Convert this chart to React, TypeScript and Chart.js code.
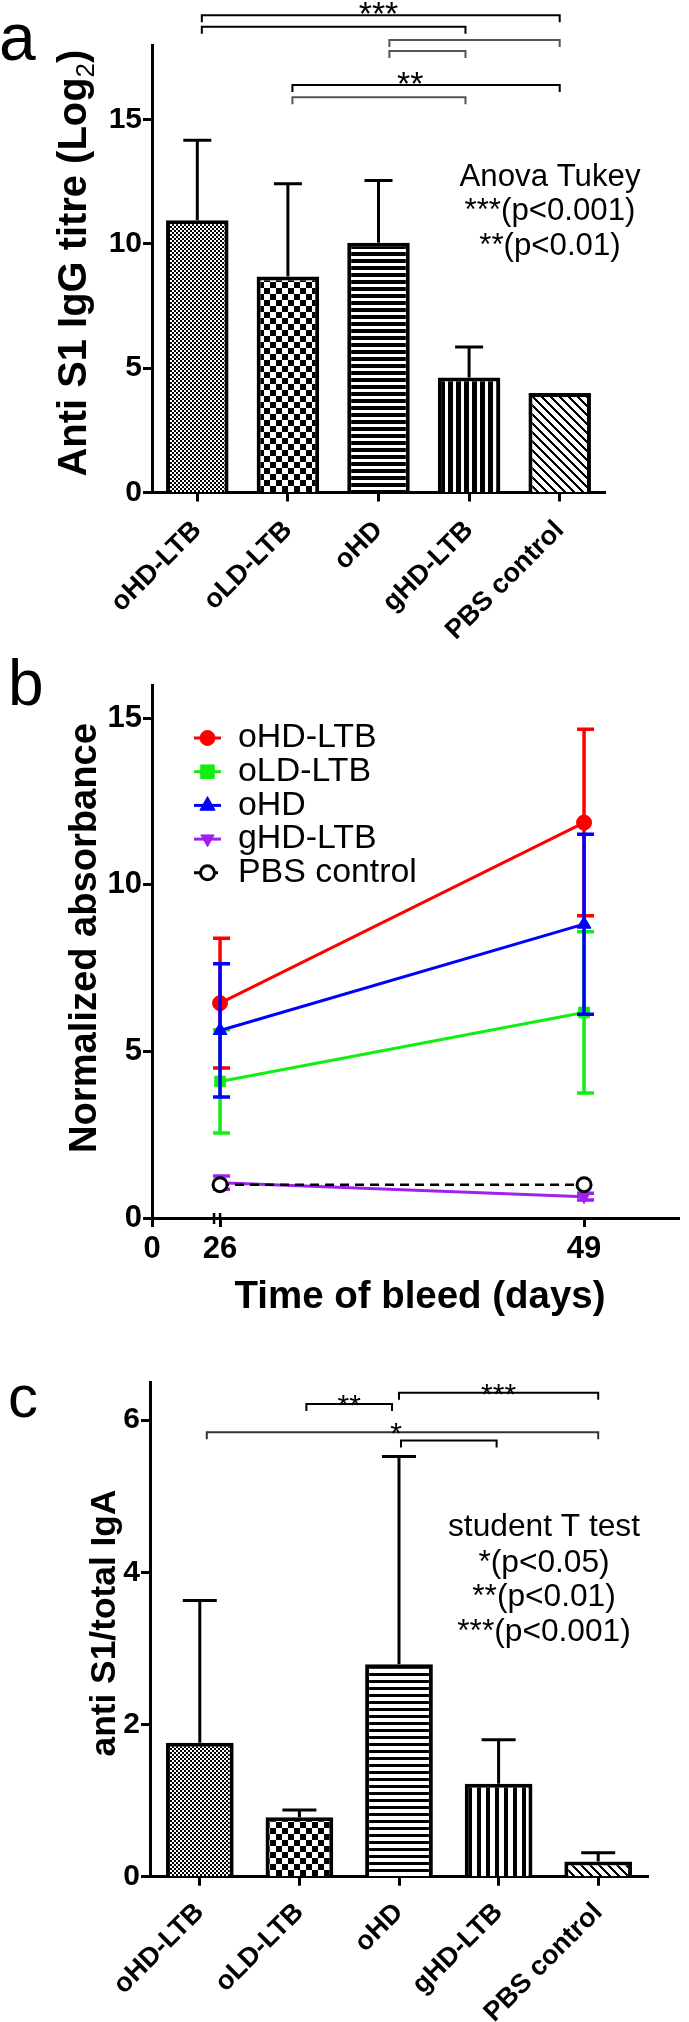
import React, { useEffect, useRef } from 'react';
import { Chart, registerables } from 'chart.js';

Chart.register(...registerables);

const FONT = '"Liberation Sans", Arial, Helvetica, sans-serif';

// ---------------- Panel a : anti S1 IgG titre ----------------
const groups = ['oHD-LTB', 'oLD-LTB', 'oHD', 'gHD-LTB', 'PBS control'];
const iggMean = [10.95, 8.69, 10.05, 4.63, 4.0];
const iggErr = [3.22, 3.73, 2.5, 1.22, 0];
const iggTicks = [0, 5, 10, 15];
const iggMax = 18;
// [fromIndex, toIndex, level, label, labelIndex, colour]
const iggBrackets: any[] = [
  [0.05, 4, 19.2, '***', 2.0, '#000'],
  [0.05, 2.96, 18.73, '', 0, '#000'],
  [2.12, 4, 18.2, '', 0, '#555'],
  [2.12, 2.96, 17.76, '', 0, '#555'],
  [1.05, 4, 16.39, '**', 2.35, '#000'],
  [1.05, 2.96, 15.9, '', 0, '#555'],
];
const iggNotes = ['Anova Tukey', '***(p<0.001)', '**(p<0.01)'];

// ---------------- Panel b : normalized absorbance ----------------
const bleedDays = [26, 49];
const bleedTickLabels = ['0', '26', '49'];
const absTicks = [0, 5, 10, 15];
const seriesNames = ['oHD-LTB', 'oLD-LTB', 'oHD', 'gHD-LTB', 'PBS control'];
const absOHDLTB = [6.45, 11.87];
const errOHDLTB = [1.95, 2.8];
const absOLDLTB = [4.1, 6.17];
const errOLDLTB = [1.55, 2.42];
const absOHD = [5.63, 8.82];
const errOHD = [2.0, 2.7];
const absGHDLTB = [1.06, 0.64];
const errGHDLTB = [0.2, 0.1];
const absPBS = [1.0, 1.0];
const errPBS = [0, 0];

// ---------------- Panel c : anti S1 / total IgA ----------------
const igaMean = [1.76, 0.78, 2.79, 1.22, 0.2];
const igaErr = [1.87, 0.095, 2.73, 0.58, 0.115];
const igaTicks = [0, 2, 4, 6];
const igaMax = 6.5;
const igaBrackets: any[] = [
  [1.07, 1.93, 6.21, '**', 1.5, '#000'],
  [2.0, 4.0, 6.36, '***', 3.0, '#000'],
  [0.07, 4.0, 5.84, '*', 1.97, '#333'],
  [2.02, 2.98, 5.73, '', 0, '#000'],
];
const igaNotes = ['student T test', '*(p<0.05)', '**(p<0.01)', '***(p<0.001)'];

// ---------------- helpers ----------------
function makePattern(kind: string) {
  const c = document.createElement('canvas');
  let w = 4, h = 4;
  let f: (x: number, y: number) => boolean = () => false;
  if (kind === 'fine') { w = 4; h = 4; f = (x, y) => ((x >> 1) + (y >> 1)) % 2 === 0; }
  if (kind === 'checker') { w = 12; h = 12; f = (x, y) => (Math.floor(x / 6) + Math.floor(y / 6)) % 2 === 0; }
  if (kind === 'hlinesA') { w = 1; h = 7; f = (x, y) => y < 4; }
  if (kind === 'hlinesC') { w = 1; h = 7; f = (x, y) => y < 3; }
  if (kind === 'vlinesA') { w = 8; h = 1; f = (x) => x < 5; }
  if (kind === 'vlinesC') { w = 9; h = 1; f = (x) => x < 4; }
  if (kind === 'diag') { w = 9; h = 9; f = (x, y) => (((x - y) % 9) + 9) % 9 < 3; }
  c.width = w; c.height = h;
  const g = c.getContext('2d')!;
  const img = g.createImageData(w, h);
  for (let y = 0; y < h; y++) for (let x = 0; x < w; x++) {
    const v = f(x, y) ? 0 : 255;
    const k = (y * w + x) * 4;
    img.data[k] = v; img.data[k + 1] = v; img.data[k + 2] = v; img.data[k + 3] = 255;
  }
  g.putImageData(img, 0, 0);
  return g.createPattern(c, 'repeat');
}

// font size that makes `s` exactly `width` px wide
function fitSize(ctx: CanvasRenderingContext2D, s: string, width: number, weight: string) {
  ctx.save();
  ctx.font = `${weight} 100px ${FONT}`;
  const w = ctx.measureText(s).width;
  ctx.restore();
  return (100 * width) / w;
}

function text(ctx: CanvasRenderingContext2D, s: string, x: number, y: number, font: string, align: CanvasTextAlign = 'center', base: CanvasTextBaseline = 'middle') {
  ctx.save();
  ctx.font = font; ctx.fillStyle = '#000'; ctx.textAlign = align; ctx.textBaseline = base;
  ctx.fillText(s, x, y);
  ctx.restore();
}

// rotated (bottom-to-top) title fitted to a given length; parts scale together
function rotTitle(ctx: CanvasRenderingContext2D, parts: any[], baseX: number, centerY: number, length: number) {
  ctx.save();
  const measure = (k: number) => parts.map((p) => { ctx.font = `${p.weight} ${p.size * k}px ${FONT}`; return ctx.measureText(p.text).width; });
  const w0 = measure(1).reduce((a, b) => a + b, 0);
  const k = length / w0;
  const widths = measure(k);
  ctx.translate(baseX, centerY);
  ctx.rotate(-Math.PI / 2);
  ctx.fillStyle = '#000'; ctx.textAlign = 'left'; ctx.textBaseline = 'alphabetic';
  let x = -length / 2;
  parts.forEach((p, i) => { ctx.font = `${p.weight} ${p.size * k}px ${FONT}`; ctx.fillText(p.text, x, p.dy * k); x += widths[i]; });
  ctx.restore();
}

function drawMarker(ctx: CanvasRenderingContext2D, style: string, rot: number, x: number, y: number, r: number, fill: string, stroke: string, bw: number) {
  ctx.save();
  ctx.translate(x, y);
  ctx.rotate((rot * Math.PI) / 180);
  ctx.beginPath();
  if (style === 'circle') ctx.arc(0, 0, r, 0, Math.PI * 2);
  else if (style === 'rect') ctx.rect(-r * 0.9, -r * 0.9, r * 1.8, r * 1.8);
  else { ctx.moveTo(0, -r * 1.1); ctx.lineTo(r * 0.95, r * 0.6); ctx.lineTo(-r * 0.95, r * 0.6); ctx.closePath(); }
  ctx.fillStyle = fill; ctx.fill();
  ctx.lineWidth = bw; ctx.strokeStyle = stroke; ctx.stroke();
  ctx.restore();
}

function axisStyle(size: number) {
  return {
    grid: { drawOnChartArea: false, tickLength: 9, tickWidth: 3, tickColor: '#000' },
    border: { display: true, color: '#000', width: 3 },
    ticks: { color: '#000', font: { family: FONT, size, weight: 'bold' as const } },
  };
}

// ---------------- bar chart (panels a & c) ----------------
function barChart(canvas: HTMLCanvasElement, p: any) {
  const W = canvas.width, H = canvas.height;
  const patterns = p.patterns.map(makePattern);
  const ax = axisStyle(30);
  const annot = {
    id: 'annot' + p.letter,
    afterDatasetsDraw(chart: any) {
      const { ctx, scales } = chart;
      const y = scales.y;
      ctx.save();
      ctx.strokeStyle = '#000'; ctx.lineWidth = 3;
      chart.getDatasetMeta(0).data.forEach((bar: any, i: number) => {
        const e = p.err[i];
        if (!e) return;
        const cap = y.getPixelForValue(p.mean[i] + e);
        ctx.beginPath();
        ctx.moveTo(bar.x, bar.y); ctx.lineTo(bar.x, cap);
        ctx.moveTo(bar.x - p.capW / 2, cap); ctx.lineTo(bar.x + p.capW / 2, cap);
        ctx.stroke();
      });
      ctx.restore();
    },
    afterDraw(chart: any) {
      const { ctx, scales } = chart;
      const x = scales.x, y = scales.y;
      p.brackets.forEach((b: any[]) => {
        const [from, to, lvl, label, li, col] = b;
        const x1 = x.getPixelForValue(from), x2 = x.getPixelForValue(to), py = y.getPixelForValue(lvl);
        ctx.save();
        ctx.strokeStyle = col; ctx.lineWidth = 2;
        ctx.beginPath();
        ctx.moveTo(x1, py + 7); ctx.lineTo(x1, py); ctx.lineTo(x2, py); ctx.lineTo(x2, py + 7);
        ctx.stroke();
        ctx.restore();
        if (label) text(ctx, label, x.getPixelForValue(li), py + p.starOffset, `${p.starSize}px ${FONT}`, 'center', 'alphabetic');
      });
      const ns = fitSize(ctx, p.notes[0], p.notesWidth, 'normal');
      p.notes.forEach((s: string, i: number) => text(ctx, s, p.notesX, p.notesY[i], `${ns}px ${FONT}`));
      rotTitle(ctx, p.title, p.titleX, p.titleY, p.titleLen);
      text(ctx, p.letter, p.letterX, p.letterY, `${p.letterSize}px ${FONT}`, 'left', 'alphabetic');
    },
  };
  return new Chart(canvas, {
    type: 'bar',
    data: {
      labels: groups,
      datasets: [{
        data: p.mean, backgroundColor: patterns as any, borderColor: '#000', borderWidth: 4,
        borderSkipped: 'start', barPercentage: p.barPct, categoryPercentage: 1,
      }],
    },
    options: {
      responsive: false, animation: false, devicePixelRatio: 1, events: [],
      layout: { padding: { top: p.area.top, right: W - p.area.right, left: 0, bottom: 0 } },
      plugins: { legend: { display: false }, tooltip: { enabled: false } },
      scales: {
        x: {
          offset: true, z: 1,
          grid: { ...ax.grid, offset: false }, border: ax.border,
          ticks: { ...ax.ticks, font: { family: FONT, size: 27, weight: 'bold' }, minRotation: 45, maxRotation: 45, autoSkip: false, padding: p.labelPad },
          afterFit: (s: any) => { s.height = H - p.area.bottom; },
        },
        y: {
          min: 0, max: p.max,
          afterBuildTicks: (s: any) => { s.ticks = p.ticks.map((v: number) => ({ value: v })); },
          grid: ax.grid, border: ax.border,
          ticks: { ...ax.ticks, padding: 1 },
          afterFit: (s: any) => { s.width = p.area.left; },
        },
      },
    } as any,
    plugins: [annot],
  });
}

// ---------------- line chart (panel b) ----------------
function lineChart(canvas: HTMLCanvasElement) {
  const H = canvas.height;
  const area = { left: 152, top: 35, bottom: 568 };
  const means = [absOHDLTB, absOLDLTB, absOHD, absGHDLTB, absPBS];
  const errs = [errOHDLTB, errOLDLTB, errOHD, errGHDLTB, errPBS];
  const colors = ['#ff0000', '#11ee11', '#0000ff', '#a020f0', '#000000'];
  const styles = ['circle', 'rect', 'triangle', 'triangle', 'circle'];
  const rots = [0, 0, 0, 180, 0];
  const radii = [7.5, 7.5, 8, 7, 7];
  const fills = ['#ff0000', '#11ee11', '#0000ff', '#a020f0', '#ffffff'];
  const dashes = [[], [], [], [], [9, 6]];
  const ax = axisStyle(31);
  const annot = {
    id: 'annotB',
    afterDatasetDraw(chart: any, args: any) {
      const i = args.index;
      const { ctx, scales } = chart;
      ctx.save();
      ctx.strokeStyle = colors[i]; ctx.lineWidth = 3.5;
      args.meta.data.forEach((pt: any, j: number) => {
        const e = errs[i][j];
        if (!e) return;
        const top = scales.y.getPixelForValue(means[i][j] + e);
        const bot = scales.y.getPixelForValue(means[i][j] - e);
        ctx.beginPath();
        ctx.moveTo(pt.x, top); ctx.lineTo(pt.x, bot);
        ctx.moveTo(pt.x - 7, top); ctx.lineTo(pt.x + 10, top);
        ctx.moveTo(pt.x - 7, bot); ctx.lineTo(pt.x + 10, bot);
        ctx.stroke();
      });
      ctx.restore();
    },
    afterDraw(chart: any) {
      const { ctx, scales } = chart;
      const bx = scales.x.getPixelForValue(bleedDays[0]);
      const by = scales.y.getPixelForValue(0);
      ctx.save();
      ctx.strokeStyle = '#000'; ctx.lineWidth = 2.5;
      ctx.beginPath();
      ctx.moveTo(bx - 6, by - 5); ctx.lineTo(bx - 6, by + 6);
      ctx.moveTo(bx, by - 5); ctx.lineTo(bx, by + 1);
      ctx.stroke();
      ctx.restore();
      const ls = fitSize(ctx, seriesNames[4], 179, 'normal');
      chart.data.datasets.forEach((ds: any, i: number) => {
        const cy = 88 + i * 33.7;
        ctx.save();
        ctx.strokeStyle = colors[i]; ctx.lineWidth = 3; ctx.setLineDash(dashes[i]);
        ctx.beginPath(); ctx.moveTo(194, cy); ctx.lineTo(221, cy); ctx.stroke();
        ctx.restore();
        drawMarker(ctx, styles[i], rots[i], 207.5, cy, radii[i], fills[i], colors[i], i === 4 ? 3 : 1);
        text(ctx, ds.label, 238, cy, `${ls}px ${FONT}`, 'left', 'middle');
      });
      rotTitle(ctx, [{ text: 'Normalized absorbance', size: 38, weight: 'bold', dy: 0 }], 96, 288, 430);
      const xs = fitSize(ctx, 'Time of bleed (days)', 371, 'bold');
      text(ctx, 'Time of bleed (days)', 420, 647, `bold ${xs}px ${FONT}`);
      text(ctx, 'b', 8, 55, `64px ${FONT}`, 'left', 'alphabetic');
    },
  };
  return new Chart(canvas, {
    type: 'line',
    data: {
      datasets: seriesNames.map((name, i) => ({
        label: name,
        data: bleedDays.map((d, j) => ({ x: d, y: means[i][j] })),
        borderColor: colors[i], backgroundColor: fills[i],
        borderWidth: i === 4 ? 2.5 : 3, borderDash: dashes[i],
        pointStyle: styles[i], pointRotation: rots[i], pointRadius: radii[i],
        pointBackgroundColor: fills[i], pointBorderColor: colors[i], pointBorderWidth: i === 4 ? 3 : 1,
        order: 5 - i, tension: 0,
      })),
    },
    options: {
      responsive: false, animation: false, devicePixelRatio: 1, events: [],
      layout: { padding: { top: area.top, right: 0, left: 0, bottom: 0 } },
      plugins: { legend: { display: false }, tooltip: { enabled: false } },
      scales: {
        x: {
          type: 'linear', min: 21.7, max: 55,
          afterBuildTicks: (s: any) => { s.ticks = [s.min, ...bleedDays].map((v: number) => ({ value: v })); },
          grid: ax.grid, border: ax.border,
          ticks: { ...ax.ticks, padding: 4, maxRotation: 0, callback: (_v: any, i: number) => bleedTickLabels[i] },
          afterFit: (s: any) => { s.height = H - area.bottom; },
        },
        y: {
          min: 0, max: 16,
          afterBuildTicks: (s: any) => { s.ticks = absTicks.map((v) => ({ value: v })); },
          grid: ax.grid, border: ax.border,
          ticks: { ...ax.ticks, padding: 1 },
          afterFit: (s: any) => { s.width = area.left; },
        },
      },
    } as any,
    plugins: [annot],
  });
}

export default function App() {
  const refA = useRef<HTMLCanvasElement>(null);
  const refB = useRef<HTMLCanvasElement>(null);
  const refC = useRef<HTMLCanvasElement>(null);
  useEffect(() => {
    const a = barChart(refA.current!, {
      mean: iggMean, err: iggErr, ticks: iggTicks, max: iggMax, brackets: iggBrackets,
      patterns: ['fine', 'checker', 'hlinesA', 'vlinesA', 'diag'],
      area: { left: 152, right: 605, top: 45, bottom: 492.5 }, barPct: 0.69, capW: 28, labelPad: 13,
      starSize: 34, starOffset: 10,
      notes: iggNotes, notesX: 550, notesY: [177, 211, 246], notesWidth: 181,
      title: [
        { text: 'Anti S1 IgG titre (Log', size: 40, weight: 'bold', dy: 0 },
        { text: '2', size: 26, weight: 'normal', dy: 8 },
        { text: ')', size: 40, weight: 'bold', dy: 0 },
      ],
      titleX: 86, titleY: 263, titleLen: 427,
      letter: 'a', letterX: -1, letterY: 60, letterSize: 66,
    });
    const b = lineChart(refB.current!);
    const c = barChart(refC.current!, {
      mean: igaMean, err: igaErr, ticks: igaTicks, max: igaMax, brackets: igaBrackets,
      patterns: ['fine', 'checker', 'hlinesC', 'vlinesC', 'diag'],
      area: { left: 150, right: 648, top: 52, bottom: 546.7 }, barPct: 0.68, capW: 34, labelPad: 11,
      starSize: 30, starOffset: 11,
      notes: igaNotes, notesX: 544, notesY: [197, 233, 267, 302], notesWidth: 192,
      title: [{ text: 'anti S1/total IgA', size: 35, weight: 'bold', dy: 0 }],
      titleX: 115, titleY: 293, titleLen: 267,
      letter: 'c', letterX: 8, letterY: 87, letterSize: 60,
    });
    return () => { a.destroy(); b.destroy(); c.destroy(); };
  }, []);
  const cv = (top: number, h: number): React.CSSProperties => ({ position: 'absolute', left: 0, top, width: 689, height: h });
  return (
    <div style={{ position: 'absolute', left: 0, top: 0, width: 689, height: 2022, background: '#fff' }}>
      <canvas ref={refA} width={689} height={650} style={cv(0, 650)} />
      <canvas ref={refB} width={689} height={680} style={cv(650, 680)} />
      <canvas ref={refC} width={689} height={692} style={cv(1330, 692)} />
    </div>
  );
}
